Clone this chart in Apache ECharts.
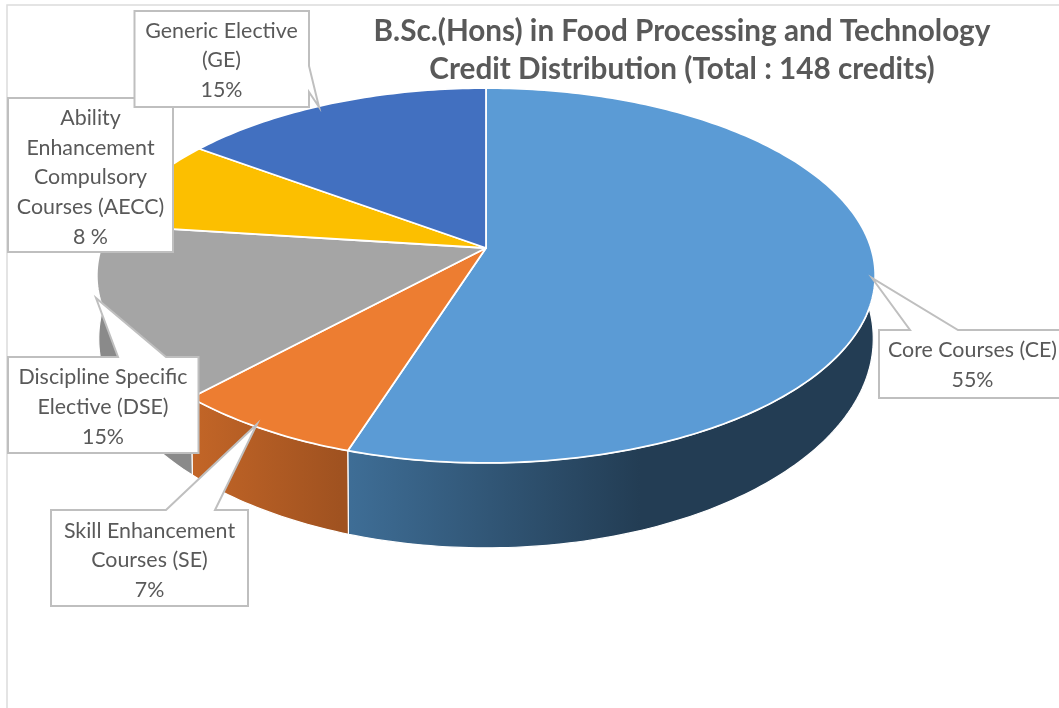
<!DOCTYPE html>
<html>
<head>
<meta charset="utf-8">
<script src="https://cdn.jsdelivr.net/npm/echarts@6/dist/echarts.min.js"></script>
<style>html,body{margin:0;padding:0;background:#fff}#c{width:1059px;height:708px}</style>
</head>
<body>
<div id="c"></div>
<script>
// Data, clockwise from 12 o'clock
const categories = ['Core Courses (CE)', 'Skill Enhancement Courses (SE)', 'Discipline Specific Elective (DSE)', 'Ability Enhancement Compulsory Courses (AECC)', 'Generic Elective (GE)'];
const values = [55, 7, 15, 8, 15];
const percentLabels = ['55%', '7%', '15%', '8 %', '15%'];
const titleLines = ['B.Sc.(Hons) in Food Processing and Technology', 'Credit Distribution (Total : 148 credits)'];

// Styles
const topColors = ['#5b9bd5', '#ed7d31', '#a5a5a5', '#fcbf00', '#4270c0'];
const wallColors = [
  {from: 340, to: 640, a: '#3f6f98', b: '#233d54'},
  {from: 195, to: 340, a: '#c26527', b: '#a05220'},
  {from: 90, to: 195, a: '#8a8a8a', b: '#8a8a8a'},
  null, null
];
// Pie projection (tilted disc seen in perspective)
const tip = {x: 486, y: 248}, R = 385, H = 183.4, K = 0.1467;
const lower = {dy: 60, sx: 0.995, sy: 1.116};

function project(deg, rim) {
  const t = deg * Math.PI / 180, u = Math.sin(t), v = -Math.cos(t), d = 1 - K * v;
  const x = R * u / d, y = H * v / d;
  return rim ? [tip.x + x * lower.sx, tip.y + lower.dy + y * lower.sy] : [tip.x + x, tip.y + y];
}
function arc(a, b, rim) {
  const pts = [], n = Math.max(2, Math.ceil(Math.abs(b - a)));
  for (let i = 0; i <= n; i++) pts.push(project(a + (b - a) * i / n, rim));
  return pts;
}
const total = values.reduce((s, v) => s + v, 0);

function renderSlice(params, api) {
  const i = params.dataIndex;
  let acc = 0;
  for (let k = 0; k < i; k++) acc += values[k];
  const a = acc / total * 360, b = (acc + api.value(0)) / total * 360;
  const children = [{
    type: 'polygon', z2: 20,
    shape: {points: [[tip.x, tip.y]].concat(arc(a, b, false))},
    style: {fill: topColors[i], stroke: '#fff', lineWidth: 1.8, lineJoin: 'round'}
  }];
  const wa = Math.max(a, 84), wb = Math.min(b, 276), w = wallColors[i];
  if (w && wb > wa) {
    children.push({
      type: 'polygon', z2: 10,
      shape: {points: arc(wa, wb, false).concat(arc(wa, wb, true).reverse())},
      style: {
        fill: {type: 'linear', global: true, x: w.from, y: 0, x2: w.to, y2: 0,
               colorStops: [{offset: 0, color: w.a}, {offset: 1, color: w.b}]},
        stroke: '#fff', lineWidth: 1.2
      }
    });
  }
  return {type: 'group', children};
}

// Callouts: box outline with pointer, and text lines
function callout(points, cx, cy, lines, z) {
  return [
    {type: 'polygon', z: z, shape: {points}, style: {fill: '#fff', stroke: '#bfbfbf', lineWidth: 2}},
    {type: 'text', z: z + 1, x: cx, y: cy, style: {
      text: lines.join('\n'), align: 'center', verticalAlign: 'middle',
      font: '21.4px Lato', lineHeight: 29.7, fill: '#595959'
    }}
  ];
}
const graphics = [
  {type: 'polyline', z: 5, shape: {points: [[7, 708], [7, 5], [1059, 5]]}, style: {fill: 'none', stroke: '#dcdcdc', lineWidth: 1.5}}
].concat(
  callout([[8,98],[173,98],[173,252],[8,252]], 90.5, 177.5, ['Ability', 'Enhancement', 'Compulsory', 'Courses (AECC)', percentLabels[3]], 10),
  callout([[134.5,11],[309,11],[309,66],[319,107],[309,92],[309,107],[134.5,107]], 221.5, 60.5, ['Generic Elective', '(GE)', percentLabels[4]], 12),
  callout([[8,357],[118,357],[96,298],[166,357],[198.5,357],[198.5,453],[8,453]], 103, 407, ['Discipline Specific', 'Elective (DSE)', percentLabels[2]], 14),
  callout([[51,510],[166,510],[257,424],[215,510],[248,510],[248,606],[51,606]], 149.5, 560.5, ['Skill Enhancement', 'Courses (SE)', percentLabels[1]], 16),
  callout([[879,330],[910,330],[872,278],[958,330],[1070,330],[1070,398],[879,398]], 972.5, 365, [categories[0], percentLabels[0]], 18)
);

const chart = echarts.init(document.getElementById('c'), null, {renderer: 'canvas'});
chart.setOption({
  animation: false,
  backgroundColor: '#fff',
  title: {
    text: titleLines.join('\n'), left: 677, top: 7, textAlign: 'center',
    textStyle: {fontFamily: 'Lato', fontSize: 29.7, fontWeight: 'bold', color: '#595959', lineHeight: 38}
  },
  graphic: {elements: graphics},
  series: [{
    type: 'custom', coordinateSystem: 'none', silent: true,
    data: categories.map((name, i) => ({name, value: [values[i]]})),
    renderItem: renderSlice
  }]
});
</script>
</body>
</html>
